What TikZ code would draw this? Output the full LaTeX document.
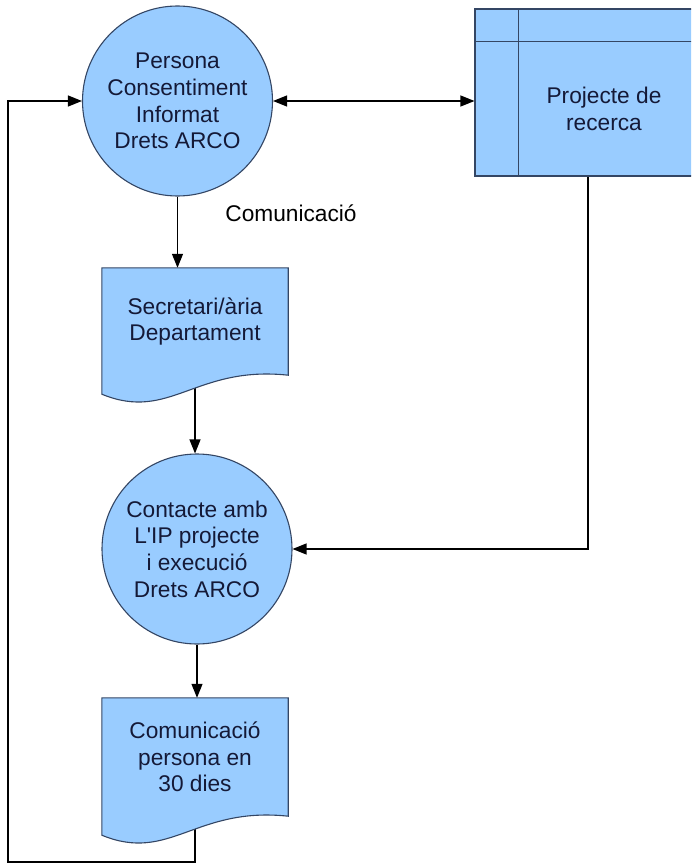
\documentclass[tikz,border=0pt]{standalone}
\usepackage{fontspec}
\setmainfont{Liberation Sans}
\usetikzlibrary{calc,arrows.meta}
\definecolor{boxblue}{RGB}{153,204,255}
\definecolor{boxline}{RGB}{52,70,100}
\definecolor{boxtext}{RGB}{20,25,55}
\pgfdeclarelayer{background}
\pgfsetlayers{background,main}
\tikzstyle{txt}=[font=\fontsize{22.7}{26.7}\selectfont, align=center, text=boxtext]
\tikzstyle{proc}=[txt, circle, fill=boxblue, draw=boxline, line width=1.1pt, minimum size=190pt, inner sep=0pt]
\tikzstyle{doc}=[txt, rectangle, minimum width=186pt, inner sep=0pt]
\tikzstyle{store}=[rectangle, fill=boxblue, draw=boxline, line width=1.1pt, minimum width=226pt, minimum height=167pt]
\tikzstyle{conn}=[draw, line width=1.2pt, black, -{Triangle[length=14pt,width=11pt]}]
\tikzstyle{docline}=[fill=boxblue, draw=boxline, line width=1.1pt]
% wavy outline under a document node
\newcommand{\docshape}[1]{
  \path[docline] (#1.north west) -- (#1.north east) -- (#1.south east)
    .. controls ($(#1.south east)+(-93,-10)$) and ($(#1.south west)+(68,47)$) ..
    ($(#1.south west)+(0,19)$) -- cycle;
}

\begin{document}
\begin{tikzpicture}[x=1pt, y=-1pt]
  \useasboundingbox (0,0) rectangle (691,864);
  \clip (0,0) rectangle (691,864);

  % First the shapes
  \node[proc] (persona) at (177.5,101) {Persona\\Consentiment\\Informat\\Drets ARCO};
  \node[store] (projecte) at (588,92.5) {};
  \draw[boxline, line width=1.1pt] ([xshift=44pt]projecte.north west) -- ([xshift=44pt]projecte.south west);
  \draw[boxline, line width=1.1pt] ([yshift=-33pt]projecte.north west) -- ([yshift=-33pt]projecte.north east);
  \node[txt] (projecte-txt) at ($(projecte.center)+(16,16.5)$) {Projecte de\\recerca};
  \node[doc, minimum height=107pt] (secretari) at (195,321.5) {Secretari/\`aria\\Departament};
  \node[proc] (ip) at (197,549) {Contacte amb\\L\textquotesingle IP projecte\\i execuci\'o\\Drets ARCO};
  \node[doc, minimum height=118pt] (resposta) at (195,757) {Comunicaci\'o\\persona en\\30 dies};
  \node[txt, text=black] (comunicacio) at (291,213) {Comunicaci\'o};
  \coordinate (retorn) at (8,862);

  % Connectors and document outlines below the text
  \begin{pgfonlayer}{background}
    \path[conn] (persona.south) -- (persona.south |- secretari.north);
    \path[conn] (secretari.center) -- (secretari.center |- ip.north);
    \path[conn] (ip.south) -- (ip.south |- resposta.north);
    \path[conn] (projecte.south) |- (ip.east);
    \path[conn] (resposta.center) |- (retorn) |- (persona.west);
    \path[conn, {Triangle[length=14pt,width=11pt]}-{Triangle[length=14pt,width=11pt]}]
      (persona.east) -- (persona.east -| projecte.west);
    \docshape{secretari}
    \docshape{resposta}
  \end{pgfonlayer}
\end{tikzpicture}
\end{document}
